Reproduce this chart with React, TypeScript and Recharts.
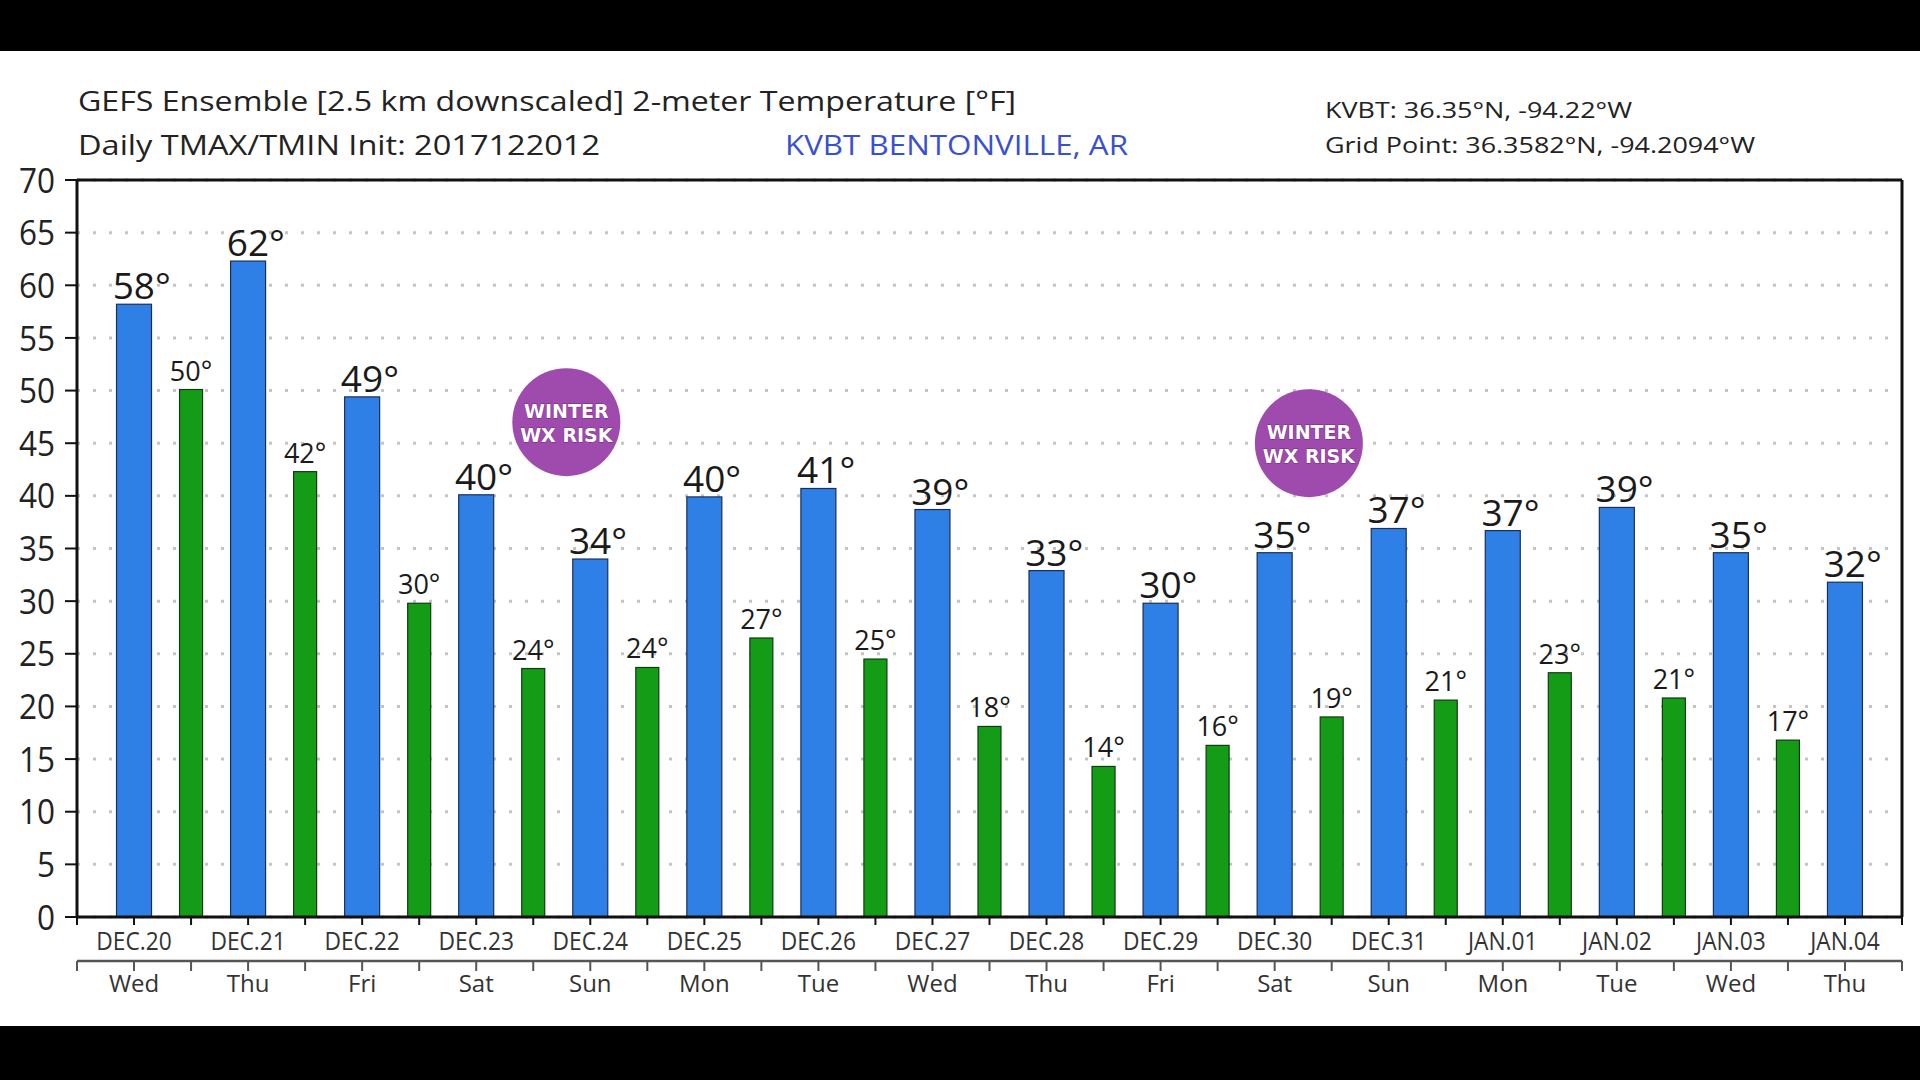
import React from 'react';
import {
  ComposedChart,
  Bar,
  XAxis,
  YAxis,
  CartesianGrid,
  ReferenceLine,
  ReferenceDot,
  LabelList,
} from 'recharts';

// ---------- data ----------
const dateLabels = ['DEC.20', 'DEC.21', 'DEC.22', 'DEC.23', 'DEC.24', 'DEC.25', 'DEC.26', 'DEC.27', 'DEC.28', 'DEC.29', 'DEC.30', 'DEC.31', 'JAN.01', 'JAN.02', 'JAN.03', 'JAN.04'];
const weekdayLabels = ['Wed', 'Thu', 'Fri', 'Sat', 'Sun', 'Mon', 'Tue', 'Wed', 'Thu', 'Fri', 'Sat', 'Sun', 'Mon', 'Tue', 'Wed', 'Thu'];
// daytime maximum (blue), one per day
const tmaxValues = [58.2, 62.3, 49.4, 40.1, 34.0, 39.9, 40.7, 38.7, 32.9, 29.8, 34.6, 36.9, 36.7, 38.9, 34.6, 31.8];
// nighttime minimum (green), following each day
const tminValues = [50.1, 42.3, 29.8, 23.6, 23.7, 26.5, 24.5, 18.1, 14.3, 16.3, 19.0, 20.6, 23.2, 20.8, 16.8];
const yTicks = [0, 5, 10, 15, 20, 25, 30, 35, 40, 45, 50, 55, 60, 65, 70];
const xTicks = [0, 0.5, 1, 1.5, 2, 2.5, 3, 3.5, 4, 4.5, 5, 5.5, 6, 6.5, 7, 7.5, 8, 8.5, 9, 9.5, 10, 10.5, 11, 11.5, 12, 12.5, 13, 13.5, 14, 14.5, 15, 15.5, 16];
// "WINTER WX RISK" badges (x in days, y in °F)
const riskX = [4.29, 10.8];
const riskY = [47, 45];
const riskLines = ['WINTER', 'WX RISK'];

const titleLine1 = 'GEFS Ensemble [2.5 km downscaled] 2-meter Temperature [°F]';
const titleLine2 = 'Daily TMAX/TMIN Init: 2017122012';
const stationName = 'KVBT BENTONVILLE, AR';
const stationLoc = 'KVBT: 36.35°N, -94.22°W';
const gridLoc = 'Grid Point: 36.3582°N, -94.2094°W';

type Row = { x: number; v: number; kind: 'max' | 'min' };
const rows: Row[] = [
  ...tmaxValues.map((v, i) => ({ x: i + 0.5, v, kind: 'max' as const })),
  ...tminValues.map((v, i) => ({ x: i + 1, v, kind: 'min' as const })),
].sort((a, b) => a.x - b.x);

// ---------- styles ----------
const BLUE = '#2f80e6';
const GREEN = '#149c17';
const FONT = '"Open Sans", "Noto Sans", sans-serif';

const BarShape = (p: any) => {
  const { x, y, width, height, payload } = p;
  if (height == null || isNaN(height)) return null;
  const isMax = payload.kind === 'max';
  const w = isMax ? 35 : 23;
  const cx = x + width / 2;
  return (
    <rect
      x={cx - w / 2}
      y={y}
      width={w}
      height={height}
      fill={isMax ? BLUE : GREEN}
      stroke={isMax ? '#1c2f52' : '#123a14'}
      strokeWidth={1.2}
    />
  );
};

const renderLabel = (p: any) => {
  const { x, y, width, index, value } = p;
  const row = rows[index];
  if (!row) return null;
  const isMax = row.kind === 'max';
  const cx = x + width / 2;
  const fs = isMax ? 37 : 27;
  return (
    <text
      x={cx + (isMax ? fs * 0.21 : 0)}
      y={y - (isMax ? 5 : 9)}
      textAnchor="middle"
      fontSize={fs}
      fontFamily={FONT}
      fill="#1a1a1a"
    >
      {Math.round(Number(value))}°
    </text>
  );
};

const YTick = (props: any) => {
  const { x, y, payload } = props;
  return (
    <g transform={`translate(${x},${y})`}>
      <text transform="scale(0.9,1)" textAnchor="end" dy="0.36em" fontSize={35} fontFamily={FONT} fill="#222">
        {payload.value}
      </text>
    </g>
  );
};

const DateTick = (props: any) => {
  const { x, y, payload } = props;
  const v = payload.value;
  if (v % 1 === 0) return null;
  const i = Math.floor(v);
  return (
    <g transform={`translate(${x},${y})`}>
      <text transform="scale(0.91,1)" textAnchor="middle" dy={25} fontSize={25} fontFamily={FONT} fill="#333">
        {dateLabels[i]}
      </text>
    </g>
  );
};

const DowTick = (props: any) => {
  const { x, y, payload } = props;
  const v = payload.value;
  if (v % 1 === 0) return null;
  const i = Math.floor(v);
  return (
    <g transform={`translate(${x},${y})`}>
      <text textAnchor="middle" dy={21} fontSize={24} fontFamily={FONT} fill="#333">
        {weekdayLabels[i]}
      </text>
    </g>
  );
};

const RiskBadge = (p: any) => {
  const { cx, cy, r } = p;
  return (
    <g>
      <circle cx={cx} cy={cy} r={r} fill="#9f4bae" />
      {riskLines.map((t, k) => (
        <text
          key={k}
          x={cx}
          y={cy + (k === 0 ? -4 : 20)}
          textAnchor="middle"
          fontSize={19}
          fontWeight="bold"
          fontFamily='"DejaVu Sans", sans-serif'
          fill="#ffffff"
          stroke="#6e2a7c"
          strokeWidth={0.8}
          paintOrder="stroke"
        >
          {t}
        </text>
      ))}
    </g>
  );
};

export default function App() {
  return (
    <div style={{ position: 'absolute', left: 0, top: 0, width: 1920, height: 1080, background: '#000', overflow: 'hidden' }}>
      <div style={{ position: 'absolute', left: 0, top: 51, width: 1920, height: 975, background: '#fff' }} />
      <svg width={1920} height={180} style={{ position: 'absolute', left: 0, top: 0 }}>
        <text x={78} y={111} fontSize={28} fontFamily={FONT} fill="#222" textLength={938} lengthAdjust="spacingAndGlyphs">
          {titleLine1}
        </text>
        <text x={78} y={155} fontSize={28} fontFamily={FONT} fill="#222" textLength={522} lengthAdjust="spacingAndGlyphs">
          {titleLine2}
        </text>
        <text x={785} y={155} fontSize={28} fontFamily={FONT} fill="#3a50d2" textLength={343} lengthAdjust="spacingAndGlyphs">
          {stationName}
        </text>
        <text x={1325} y={118} fontSize={22} fontFamily={FONT} fill="#222" textLength={307} lengthAdjust="spacingAndGlyphs">
          {stationLoc}
        </text>
        <text x={1325} y={153} fontSize={22} fontFamily={FONT} fill="#222" textLength={430} lengthAdjust="spacingAndGlyphs">
          {gridLoc}
        </text>
      </svg>
      <div style={{ position: 'absolute', left: 0, top: 0 }}>
        <ComposedChart
          width={1920}
          height={1026}
          data={rows}
          margin={{ top: 180, right: 18, left: 0, bottom: 10 }}
          style={{ fontFamily: FONT }}
        >
          <CartesianGrid vertical={false} stroke="#c4c4c4" strokeWidth={3} strokeDasharray="3 13" />
          <XAxis
            dataKey="x"
            type="number"
            domain={[0, 16]}
            ticks={xTicks}
            interval={0}
            height={44}
            axisLine={{ stroke: '#111', strokeWidth: 3 }}
            tickLine={{ stroke: '#111', strokeWidth: 2 }}
            tickSize={8}
            tickMargin={0}
            tick={<DateTick />}
          />
          <XAxis
            xAxisId="dow"
            dataKey="x"
            type="number"
            domain={[0, 16]}
            ticks={xTicks}
            interval={0}
            height={55}
            axisLine={{ stroke: '#555', strokeWidth: 2.5 }}
            tickLine={{ stroke: '#555', strokeWidth: 2 }}
            tickSize={10}
            tickMargin={0}
            tick={<DowTick />}
          />
          <YAxis
            type="number"
            domain={[0, 70]}
            ticks={yTicks}
            interval={0}
            width={77}
            axisLine={{ stroke: '#111', strokeWidth: 3 }}
            tickLine={{ stroke: '#111', strokeWidth: 2 }}
            tickSize={12}
            tickMargin={10}
            tick={<YTick />}
          />
          <ReferenceLine y={70} stroke="#111" strokeWidth={3} />
          <ReferenceLine x={16} stroke="#111" strokeWidth={3} />
          <Bar dataKey="v" barSize={37} isAnimationActive={false} shape={<BarShape />}>
            <LabelList dataKey="v" content={renderLabel} />
          </Bar>
          {riskX.map((rx, k) => (
            <ReferenceDot key={k} x={rx} y={riskY[k]} r={54} shape={<RiskBadge />} ifOverflow="visible" />
          ))}
        </ComposedChart>
      </div>
    </div>
  );
}
